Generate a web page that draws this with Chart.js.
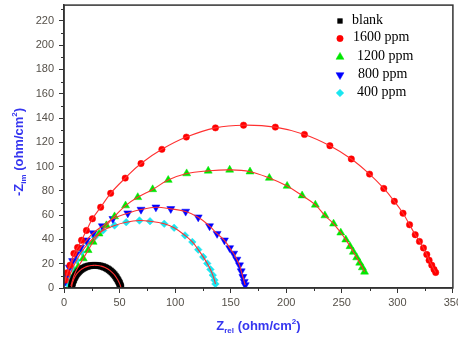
<!DOCTYPE html>
<html><head><meta charset="utf-8">
<script src="https://cdn.jsdelivr.net/npm/chart.js@4/dist/chart.umd.min.js"></script>
<style>html,body{margin:0;padding:0;background:#fff}</style>
</head><body>
<canvas id="c" width="458" height="340"></canvas>
<script>
// ---- data ----
const seriesNames = ['blank', '1600 ppm', '1200 ppm', '800 ppm', '400 ppm'];
const xTickValues = [0, 50, 100, 150, 200, 250, 300, 350];
const yTickValues = [0, 20, 40, 60, 80, 100, 120, 140, 160, 180, 200, 220];

const blankX = [6.8, 7, 7.3, 7.7, 8.2, 8.7, 9.3, 10, 10.7, 11.5, 12.4, 13.3, 14.3, 15.4, 16.5, 17.7, 19, 20.3, 21.7, 23.1, 24.6, 26, 27.5, 29, 30.5, 32, 33.5, 35, 36.4, 37.8, 39.2, 40.5, 41.8, 43, 44.1, 45.2, 46.2, 47.1, 47.9, 48.7, 49.4, 50, 50.5, 50.9, 51.2];
const blankY = [0.5, 1.8, 3.1, 4.4, 5.7, 7, 8.2, 9.4, 10.5, 11.6, 12.6, 13.5, 14.4, 15.2, 15.9, 16.5, 17.1, 17.6, 18, 18.3, 18.5, 18.6, 18.7, 18.6, 18.5, 18.3, 18, 17.6, 17.1, 16.5, 15.8, 15, 14.1, 13.1, 12.1, 11, 9.8, 8.6, 7.4, 6.2, 5, 3.8, 2.6, 1.5, 0.5];

const p1600X = [0.9, 2.9, 5.4, 8.9, 12.2, 15.8, 20.2, 25.6, 33, 42, 55.1, 69.3, 88.1, 110.1, 136.3, 161.6, 190.2, 216.4, 239.3, 258.6, 275, 287.8, 297.3, 305.1, 311, 316.1, 319.9, 323.5, 326.5, 328.6, 331, 333, 334.5];
const p1600Y = [6.5, 12.5, 18.8, 28.4, 33.3, 39.3, 47.4, 57, 66.5, 78, 90.5, 102.5, 114.2, 124.3, 131.9, 134.1, 132.5, 126.5, 117.2, 106.3, 93.8, 82, 71.4, 61.6, 52.1, 43.9, 38.4, 33, 27.6, 22.9, 18.8, 15.3, 12.8];

const p1200X = [6.2, 7.7, 9.8, 12.8, 17.3, 21.7, 26.2, 31.5, 38.1, 45.5, 55.4, 66.4, 79.8, 93.8, 110.4, 129.8, 149.1, 167.4, 184.8, 200.8, 214.3, 226.2, 234.8, 242.6, 249.1, 253.6, 257.4, 260.4, 263.4, 266.1, 268.5, 270.5];
const p1200Y = [1.6, 6.5, 12, 17.4, 24.3, 31.1, 37.9, 44.7, 51.5, 58.9, 67.9, 74.7, 81.2, 88.9, 94.3, 96.5, 97.3, 95.8, 90.6, 84, 76.1, 68.5, 59.7, 52.9, 45.5, 39.8, 34.3, 29.7, 25.1, 20.7, 16.9, 13.3];

const p800X = [0.9, 2.4, 4.8, 7.7, 10.7, 14.9, 20.2, 26.2, 34.5, 44, 57.4, 69.3, 82.7, 96.1, 109.5, 120.8, 131, 137.8, 144.4, 149.1, 152.7, 155.6, 158, 159.5, 161, 162.2, 163.1];
const p800Y = [5.2, 10.6, 16.9, 22.3, 27.8, 33.3, 39.3, 45.2, 51, 57, 61.6, 64.6, 66.5, 65.2, 63, 58.3, 51, 44.7, 39.3, 33, 28.4, 23.5, 18.8, 13.9, 9.2, 5.2, 2.5];

const p400X = [2.9, 4.8, 7.7, 11.3, 15.8, 21.7, 27.7, 35.1, 45.5, 56, 67.9, 77.4, 90.2, 99.1, 108.9, 115.5, 120.8, 125.3, 128.9, 131.8, 133.9, 135.4, 136.3];
const p400Y = [3.8, 9.2, 16.1, 22.9, 29.7, 36.6, 42, 47.4, 51.5, 54.2, 55.6, 55, 52.9, 49.6, 43.3, 37.9, 31.6, 25.6, 20.2, 15.3, 10.6, 6.5, 3.3];

// ---- styling ----
const styles = [
  {color: '#000000', pointStyle: 'rect', radius: 4.2, rotation: 0},
  {color: '#ff0000', pointStyle: 'circle', radius: 3.2, rotation: 0},
  {color: '#00e600', pointStyle: 'triangle', radius: 4.6, rotation: 0},
  {color: '#0000ff', pointStyle: 'triangle', radius: 4.6, rotation: 180},
  {color: '#19e6f0', pointStyle: 'rectRot', radius: 3.8, rotation: 0}
];
const legendRadius = [3.4, 3.2, 4.6, 4.6, 3.8];
const xs = [blankX, p1600X, p1200X, p800X, p400X];
const ys = [blankY, p1600Y, p1200Y, p800Y, p400Y];
const pts = (X, Y) => X.map((v, i) => ({x: v, y: Y[i]}));

const datasets = [];
// fitted curves (red lines) on top
xs.forEach((X, i) => {
  datasets.push({
    label: seriesNames[i] + ' fit', data: pts(X, ys[i]), showLine: true, pointRadius: 0,
    borderColor: '#ff3030', borderWidth: 1.1, tension: 0.4, fill: false, order: 0
  });
});
// measured points
xs.forEach((X, i) => {
  const s = styles[i];
  datasets.push({
    label: seriesNames[i], data: pts(X, ys[i]), showLine: false,
    pointStyle: s.pointStyle, pointRadius: s.radius, pointRotation: s.rotation,
    backgroundColor: s.color, borderColor: s.color, borderWidth: 0.5, order: 1
  });
});

const tickFont = {family: 'Liberation Sans, Arial, sans-serif', size: 11};
const tickColor = '#555049';
const axisColor = '#333';
const titleColor = '#3535f0';

const decor = {
  id: 'decor',
  afterDraw(chart) {
    const ctx = chart.ctx, a = chart.chartArea;
    const sx = chart.scales.x, sy = chart.scales.y;
    ctx.save();
    // frame
    ctx.strokeStyle = axisColor; ctx.lineWidth = 1.5;
    ctx.strokeRect(a.left, a.top, a.right - a.left, a.bottom - a.top);
    // minor ticks
    ctx.lineWidth = 1;
    ctx.beginPath();
    for (let i = 0; i < xTickValues.length - 1; i++) {
      const v = (xTickValues[i] + xTickValues[i + 1]) / 2;
      const px = Math.round(sx.getPixelForValue(v)) + 0.5;
      ctx.moveTo(px, a.bottom); ctx.lineTo(px, a.bottom + 3);
    }
    for (let i = 0; i < yTickValues.length; i++) {
      const v = yTickValues[i] + 10;
      if (v > sy.max) break;
      const py = Math.round(sy.getPixelForValue(v)) + 0.5;
      ctx.moveTo(a.left, py); ctx.lineTo(a.left - 3, py);
    }
    ctx.stroke();

    // axis titles
    ctx.fillStyle = titleColor;
    ctx.textBaseline = 'alphabetic';
    const big = 'bold 13px Liberation Sans, Arial, sans-serif';
    const small = 'bold 8px Liberation Sans, Arial, sans-serif';
    function runs(parts) {
      let w = 0;
      parts.forEach(p => { ctx.font = p.f; w += ctx.measureText(p.t).width; });
      return w;
    }
    function drawRuns(parts, x, y) {
      parts.forEach(p => { ctx.font = p.f; ctx.fillText(p.t, x, y + p.dy); x += ctx.measureText(p.t).width; });
    }
    const xParts = [
      {t: 'Z', f: big, dy: 0}, {t: 'rel', f: small, dy: 3},
      {t: ' (ohm/cm', f: big, dy: 0}, {t: '2', f: small, dy: -6}, {t: ')', f: big, dy: 0}
    ];
    const wx = runs(xParts);
    drawRuns(xParts, (a.left + a.right) / 2 - wx / 2, 330);

    const yParts = [
      {t: '-Z', f: big, dy: 0}, {t: 'im', f: small, dy: 3},
      {t: ' (ohm/cm', f: big, dy: 0}, {t: '2', f: small, dy: -6}, {t: ')', f: big, dy: 0}
    ];
    const wy = runs(yParts);
    ctx.save();
    ctx.translate(23, 152);
    ctx.rotate(-Math.PI / 2);
    drawRuns(yParts, -wy / 2, 0);
    ctx.restore();

    // legend
    const legPos = [[340, 21, 352], [340, 38.5, 353], [340, 57, 357], [340, 75, 358], [340, 93, 357]];
    ctx.font = '14px Liberation Serif, Times New Roman, serif';
    ctx.textBaseline = 'middle';
    seriesNames.forEach((name, i) => {
      const s = styles[i], p = legPos[i];
      ctx.fillStyle = s.color; ctx.strokeStyle = s.color; ctx.lineWidth = 0.5;
      Chart.helpers.drawPoint(ctx, {pointStyle: s.pointStyle, radius: legendRadius[i], rotation: s.rotation, borderWidth: 0.5}, p[0], p[1]);
      ctx.fillStyle = '#000';
      ctx.fillText(name, p[2], p[1] - 1);
    });
    ctx.restore();
  }
};

new Chart(document.getElementById('c'), {
  type: 'scatter',
  data: {datasets},
  options: {
    responsive: false, animation: false,
    layout: {padding: {top: 3, right: 2, left: 0, bottom: 0}},
    plugins: {legend: {display: false}, tooltip: {enabled: false}},
    scales: {
      x: {
        type: 'linear', min: 0, max: 350,
        afterBuildTicks: s => { s.ticks = xTickValues.map(v => ({value: v})); },
        afterFit: s => { s.height = 52; s.paddingLeft = 0; s.paddingRight = 0; },
        grid: {drawOnChartArea: false, drawTicks: true, tickLength: 5, color: axisColor, tickColor: axisColor},
        border: {color: axisColor, width: 1.5},
        ticks: {font: tickFont, color: tickColor, padding: 3, maxRotation: 0, autoSkip: false}
      },
      y: {
        type: 'linear', min: 0, max: 233,
        afterBuildTicks: s => { s.ticks = yTickValues.map(v => ({value: v})); },
        afterFit: s => { s.width = 64; s.paddingTop = 0; s.paddingBottom = 0; },
        grid: {drawOnChartArea: false, drawTicks: true, tickLength: 5, color: axisColor, tickColor: axisColor},
        border: {color: axisColor, width: 1.5},
        ticks: {font: tickFont, color: tickColor, padding: 5, autoSkip: false}
      }
    }
  },
  plugins: [decor]
});
</script>
</body></html>
